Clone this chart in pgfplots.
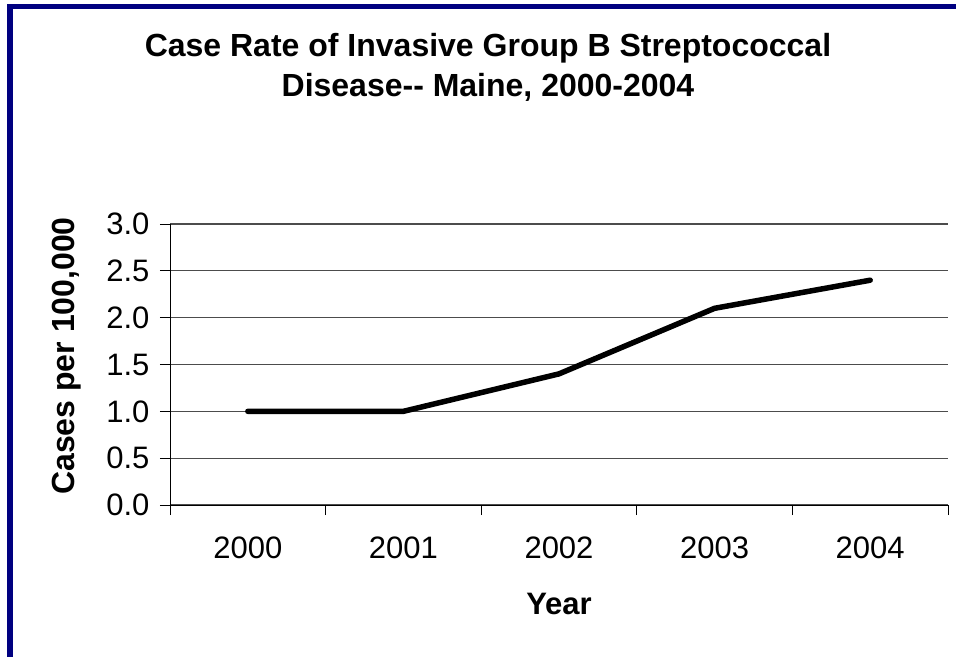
\documentclass[border=0pt]{standalone}
\usepackage{fontspec}
\setmainfont{Liberation Sans}
\usepackage{pgfplots}
\pgfplotsset{compat=1.18}
\definecolor{navyb}{RGB}{0,0,128}
\begin{document}
\begin{tikzpicture}[x=1pt,y=1pt]
\path[use as bounding box] (0,0) rectangle (956,657);
\fill[navyb] (7,0) rectangle (13,653);
\fill[navyb] (7,648) rectangle (956,653);
\begin{axis}[
  at={(170pt,152pt)}, anchor=south west,
  scale only axis, width=778pt, height=281pt,
  xmin=-0.5, xmax=4.5, ymin=0, ymax=3,
  axis x line=bottom, axis y line=left,
  axis line style={black, line width=1pt, -},
  xtick={-0.5,0.5,1.5,2.5,3.5,4.5},
  xticklabels={2000,2001,2002,2003,2004},
  x tick label as interval,
  ytick={0,0.5,1,1.5,2,2.5,3},
  /pgf/number format/fixed,
  /pgf/number format/fixed zerofill,
  /pgf/number format/precision=1,
  /pgf/number format/assume math mode=true,
  tick align=outside,
  major tick length=10pt,
  tick style={black, line width=1pt},
  ymajorgrids, major grid style={black!70, line width=1.2pt},
  tick label style={font=\fontsize{31}{37}\selectfont},
  xticklabel style={yshift=-18pt},
  yticklabel style={xshift=-7pt},
  clip=false,
]
\addplot[black, line width=5.5pt, line cap=round, line join=round] coordinates {
(0,1.0) (1,1.0) (2,1.4) (3,2.1) (4,2.4)};
\end{axis}
\node[font=\fontsize{32}{40}\selectfont\bfseries, align=center] at (488,590) {Case Rate of Invasive Group B Streptococcal\\Disease-{}- Maine, 2000-2004};
\node[font=\fontsize{31}{37}\selectfont\bfseries] at (559,53) {Year};
\node[font=\fontsize{32}{37}\selectfont\bfseries, rotate=90] at (67,301) {Cases per 100,000};
\end{tikzpicture}
\end{document}
